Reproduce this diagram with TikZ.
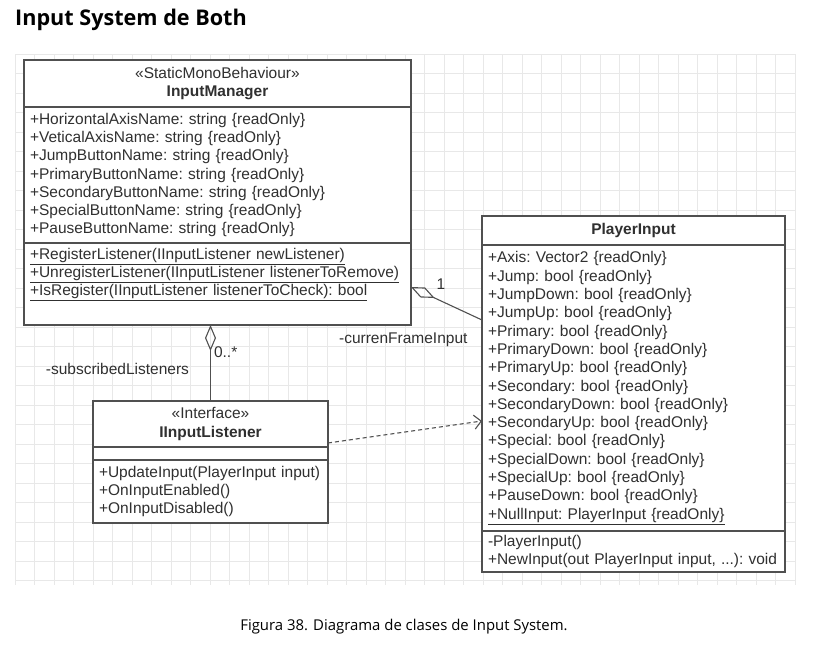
\documentclass[tikz,border=0pt]{standalone}
\usepackage{fontspec}
\setmainfont{Liberation Sans}
\newfontfamily\capfont{Open Sans}
\usepackage{tikz}
\usetikzlibrary{arrows.meta,positioning}
\definecolor{umlink}{HTML}{303030}
\definecolor{umlline}{HTML}{505050}
\definecolor{umlgrid}{HTML}{E8E8E8}
\newcommand{\umlfont}{\frenchspacing\hfuzz=20pt\fontsize{15.5}{18.3}\selectfont}

\begin{document}
\begin{tikzpicture}[
  x=1pt,y=-1pt,
  every node/.style={text=umlink},
  part/.style={draw=umlline,line width=1.3pt,fill=white,font=\umlfont,
    inner xsep=6pt,inner ysep=3pt,outer sep=0pt,align=left},
  head/.style={part,align=center},
  lbl/.style={font=\umlfont,inner sep=1pt},
  aggr/.style={draw=umlline,line width=1.1pt,{Diamond[open,length=26pt,width=11pt]}-},
  depend/.style={draw=umlline,line width=1.1pt,dashed,dash pattern=on 4pt off 3pt,
    -{Straight Barb[length=7pt,width=14pt]}}
]
\useasboundingbox (0,0) rectangle (814,657);
% grid
\foreach \gx in {0,...,40} \draw[umlgrid,line width=0.8pt] (15+19.5*\gx,54) -- (15+19.5*\gx,585);
\foreach \gy in {0,...,27} \draw[umlgrid,line width=0.8pt] (15,54+19.5*\gy) -- (795,54+19.5*\gy);

\node[anchor=west,inner sep=0pt,font=\capfont\bfseries\fontsize{21.6}{26}\selectfont,text=black]
  (title) at (15,20) {Input System de Both};

% InputManager
\node[head,anchor=north west,minimum width=387pt,minimum height=47pt] (imhead) at (24,60)
  {«StaticMonoBehaviour»\\\textbf{InputManager}};
\node[part,below=0pt of imhead,text width=375pt,minimum height=136pt] (imattr)
  {+HorizontalAxisName: string \{readOnly\}\\
   +VeticalAxisName: string \{readOnly\}\\
   +JumpButtonName: string \{readOnly\}\\
   +PrimaryButtonName: string \{readOnly\}\\
   +SecondaryButtonName: string \{readOnly\}\\
   +SpecialButtonName: string \{readOnly\}\\
   +PauseButtonName: string \{readOnly\}};
\node[part,below=0pt of imattr,text width=375pt,minimum height=82pt] (imops)
  {\underline{+RegisterListener(IInputListener newListener)}\\
   \underline{+UnregisterListener(IInputListener listenerToRemove)}\\
   \underline{+IsRegister(IInputListener listenerToCheck): bool}\\[6pt]~};

% PlayerInput
\node[head,anchor=north west,minimum width=303pt,minimum height=29pt] (pihead) at (482,216)
  {\textbf{PlayerInput}};
\node[part,below=0pt of pihead,text width=291pt,minimum height=286pt] (piattr)
  {+Axis: Vector2 \{readOnly\}\\
   +Jump: bool \{readOnly\}\\
   +JumpDown: bool \{readOnly\}\\
   +JumpUp: bool \{readOnly\}\\
   +Primary: bool \{readOnly\}\\
   +PrimaryDown: bool \{readOnly\}\\
   +PrimaryUp: bool \{readOnly\}\\
   +Secondary: bool \{readOnly\}\\
   +SecondaryDown: bool \{readOnly\}\\
   +SecondaryUp: bool \{readOnly\}\\
   +Special: bool \{readOnly\}\\
   +SpecialDown: bool \{readOnly\}\\
   +SpecialUp: bool \{readOnly\}\\
   +PauseDown: bool \{readOnly\}\\
   \underline{+NullInput: PlayerInput \{readOnly\}}};
\node[part,below=0pt of piattr,text width=291pt,minimum height=41pt] (piops)
  {-PlayerInput()\\
   \mbox{+NewInput(out PlayerInput input, ...): void}};

% IInputListener
\node[head,anchor=north west,minimum width=235pt,minimum height=46pt] (ilhead) at (93,401)
  {«Interface»\\\textbf{IInputListener}};
\node[part,below=0pt of ilhead,minimum width=235pt,minimum height=13pt,inner ysep=0pt] (ilattr) {};
\node[part,below=0pt of ilattr,text width=223pt,minimum height=63pt] (ilops)
  {\mbox{+UpdateInput(PlayerInput input)}\\
   +OnInputEnabled()\\
   +OnInputDisabled()};

% relations
\draw[aggr] (ilhead.north |- imops.south) --
  node[lbl,pos=.36,anchor=west,xshift=2pt] (mult) {0..*}
  node[lbl,pos=.58,anchor=east,xshift=-20pt] (role) {-subscribedListeners}
  (ilhead.north);
\draw[aggr] ([yshift=-3pt]imops.east) --
  node[lbl,pos=.42,above=10pt] (one) {1}
  node[lbl,pos=1,below left=11pt and 13pt] (frame) {-currenFrameInput}
  ([yshift=-75pt]piattr.north west);
\draw[depend] ([yshift=-19pt]ilhead.east) -- ([yshift=-33pt]piattr.west);

\node[font=\capfont\fontsize{14.9}{18}\selectfont,text=black,inner sep=0pt] (caption) at (404,627)
  {Figura 38. Diagrama de clases de Input System.};
\end{tikzpicture}
\end{document}
